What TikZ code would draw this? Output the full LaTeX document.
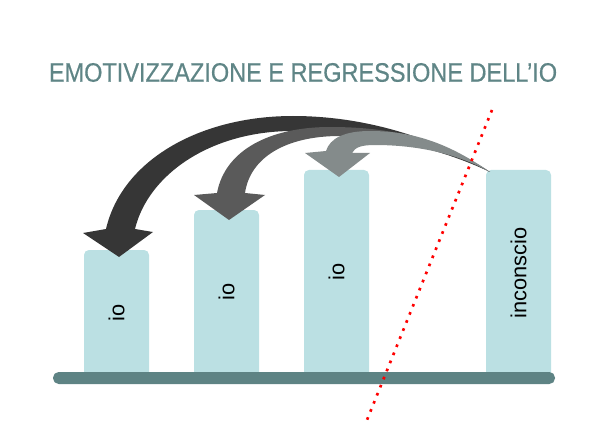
\documentclass[tikz,border=0pt]{standalone}
\usepackage{fontspec}
\setmainfont{Liberation Sans}
\newfontfamily\titlefont[FakeStretch=0.88,FakeBold=0.5]{Liberation Sans}
\usepackage{tikz,xcolor}
\usetikzlibrary{calc}

\definecolor{titlecol}{HTML}{5F8586}
\definecolor{groundcol}{HTML}{5E8384}
\definecolor{barcol}{HTML}{BBE0E3}
\definecolor{darkarrow}{HTML}{363636}
\definecolor{midarrow}{HTML}{5A5A5A}
\definecolor{lightarrow}{HTML}{848B8B}

\tikzset{
  titletext/.style={text=titlecol, font=\titlefont\fontsize{19}{21}\selectfont},
  bar/.style={fill=barcol, rounded corners=3.5pt},
  barlabel/.style={rotate=90, text=black, font=\fontsize{15.5}{18}\selectfont},
  ground/.style={fill=groundcol, rounded corners=4pt},
  arrowone/.style={fill=darkarrow},
  arrowtwo/.style={fill=midarrow},
  arrowthree/.style={fill=lightarrow},
  cutline/.style={red, line width=1.9pt, dash pattern=on 1.9pt off 4.3pt}
}

\begin{document}
\begin{tikzpicture}[x=0.025cm,y=-0.025cm]
\useasboundingbox (0,0) rectangle (600,440);

% title
\node[titletext] (title) at (303,72.5) {EMOTIVIZZAZIONE E REGRESSIONE DELL’IO};

% the four columns
\fill[bar] (84,250) rectangle (149,378);
\fill[bar] (194,210) rectangle (259,378);
\fill[bar] (304,170) rectangle (369,378);
\fill[bar] (486,170) rectangle (551,378);

\node[barlabel] (io1) at (116.5,313) {io};
\node[barlabel] (io2) at (226.5,292) {io};
\node[barlabel] (io3) at (336.5,272) {io};
\node[barlabel] (inc) at (518.5,273) {inconscio};

% arrows out of the unconscious
\coordinate (tail) at (490,172);
\coordinate (tip1) at (119,257);
\coordinate (tip2) at (229,220);
\coordinate (tip3) at (339,177);

\fill[arrowone] (tail) .. controls (430,135) and (360,116) .. (293,116)
  .. controls (200,116) and (122,160) .. (106,229) -- (83,233) -- (tip1) -- (153,232) -- (135,229)
  .. controls (148,175) and (210,131) .. (293,131) .. controls (370,131) and (440,148) .. (tail) -- cycle;

\fill[arrowtwo] (tail) .. controls (445,142) and (400,127) .. (330,127)
  .. controls (270,127) and (225,150) .. (217,193) -- (194,195) -- (tip2) -- (265,195) -- (245,193)
  .. controls (250,158) and (285,136) .. (340,136) .. controls (400,136) and (450,150) .. (tail) -- cycle;

\fill[arrowthree] (tail) .. controls (455,148) and (420,131) .. (370,131)
  .. controls (345,131) and (330,138) .. (326,151) -- (305,153) -- (tip3) -- (370,153) -- (352,153)
  .. controls (355,147) and (362,145) .. (375,145) .. controls (420,145) and (460,155) .. (tail) -- cycle;

% ground
\fill[ground] (53,372) rectangle (555,384);

% dotted cut
\coordinate (cuttop) at (492,110);
\coordinate (cutbot) at (367,420);
\draw[cutline] (cuttop) -- (cutbot);

\end{tikzpicture}
\end{document}
